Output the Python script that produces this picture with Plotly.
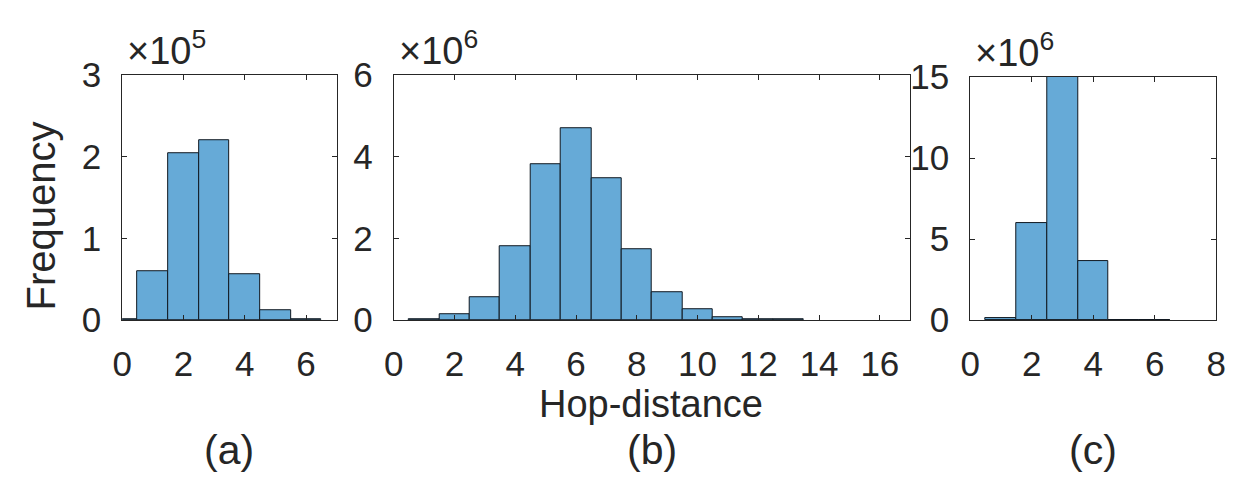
import plotly.graph_objects as go

# ---- data ----
a_hops = [0, 1, 2, 3, 4, 5, 6]
a_freq = [500, 60000, 205000, 220000, 56000, 11500, 800]

b_hops = [1, 2, 3, 4, 5, 6, 7, 8, 9, 10, 11, 12, 13]
b_freq = [20000, 140000, 560000, 1810000, 3820000, 4690000, 3470000,
          1730000, 680000, 265000, 80000, 20000, 15000]

c_hops = [1, 2, 3, 4, 5, 6]
c_freq = [150000, 6000000, 15200000, 3650000, 30000, 20000]

a_xticks = [0, 2, 4, 6]
b_xticks = [0, 2, 4, 6, 8, 10, 12, 14, 16]
c_xticks = [0, 2, 4, 6, 8]
a_yticks = [0, 1, 2, 3]
b_yticks = [0, 2, 4, 6]
c_yticks = [0, 5, 10, 15]

W, H = 1241, 490
BAR = "#66AAD7"
AX = "#262626"
FONT = "Liberation Sans, Arial, sans-serif"

# panel boxes in pixels: (left, right, top, bottom)
boxes = [(114, 332, 60, 326), (390, 915, 60, 326), (976, 1226, 62, 326)]

fig = go.Figure()
panels = [
    (a_hops, a_freq, a_xticks, a_yticks, 1e5, [0, 7], "5"),
    (b_hops, b_freq, b_xticks, b_yticks, 1e6, [0, 17], "6"),
    (c_hops, c_freq, c_xticks, c_yticks, 1e6, [0, 8], "6"),
]

for i, (hx, hy, xt, yt, scale, xr, exp) in enumerate(panels):
    n = "" if i == 0 else str(i + 1)
    fig.add_trace(go.Bar(
        x=hx, y=hy, width=1.0,
        marker=dict(color=BAR, line=dict(color="#101820", width=1)),
        xaxis="x" + n, yaxis="y" + n, showlegend=False,
    ))
    l, r, t, b = boxes[i]
    common = dict(
        showline=True, linecolor=AX, linewidth=1, mirror="ticks",
        ticks="inside", ticklen=5, tickwidth=1, tickcolor=AX,
        showgrid=False, zeroline=False,
        tickfont=dict(family=FONT, size=35, color=AX),
    )
    fig.update_layout(**{
        "xaxis" + n: dict(
            domain=[l / W, r / W], range=xr, anchor="y" + n,
            tickvals=xt, ticktext=[str(v) for v in xt],
            ticklabelstandoff=13, **common),
        "yaxis" + n: dict(
            domain=[(H - b) / H, (H - t) / H], anchor="x" + n,
            range=[0, yt[-1] * scale],
            tickvals=[v * scale for v in yt], ticktext=[str(v) for v in yt],
            ticklabelstandoff=13, **common),
    })
    fig.add_annotation(
        x=(l + 3) / W, y=(H - t + 1) / H, xref="paper", yref="paper",
        xanchor="left", yanchor="bottom", showarrow=False,
        text="\u00d710<sup>" + exp + "</sup>",
        font=dict(family=FONT, size=38, color=AX),
    )
    fig.add_annotation(
        x=(l + r) / 2 / W, y=(H - 467) / H, xref="paper", yref="paper",
        xanchor="center", yanchor="middle", showarrow=False,
        text="(" + "abc"[i] + ")",
        font=dict(family=FONT, size=41, color=AX),
    )

fig.add_annotation(
    x=652 / W, y=(H - 417) / H, xref="paper", yref="paper",
    xanchor="center", yanchor="middle", showarrow=False,
    text="Hop-distance", font=dict(family=FONT, size=38, color=AX),
)
fig.add_annotation(
    x=32 / W, y=(H - 213) / H, xref="paper", yref="paper",
    xanchor="center", yanchor="middle", showarrow=False, textangle=-90,
    text="Frequency", font=dict(family=FONT, size=40, color=AX),
)

fig.update_layout(
    width=W, height=H, margin=dict(l=0, r=0, t=0, b=0),
    paper_bgcolor="white", plot_bgcolor="white", bargap=0,
)
fig.write_html("out.html", config={"displayModeBar": False},
               post_script="document.body.style.margin='0';")
